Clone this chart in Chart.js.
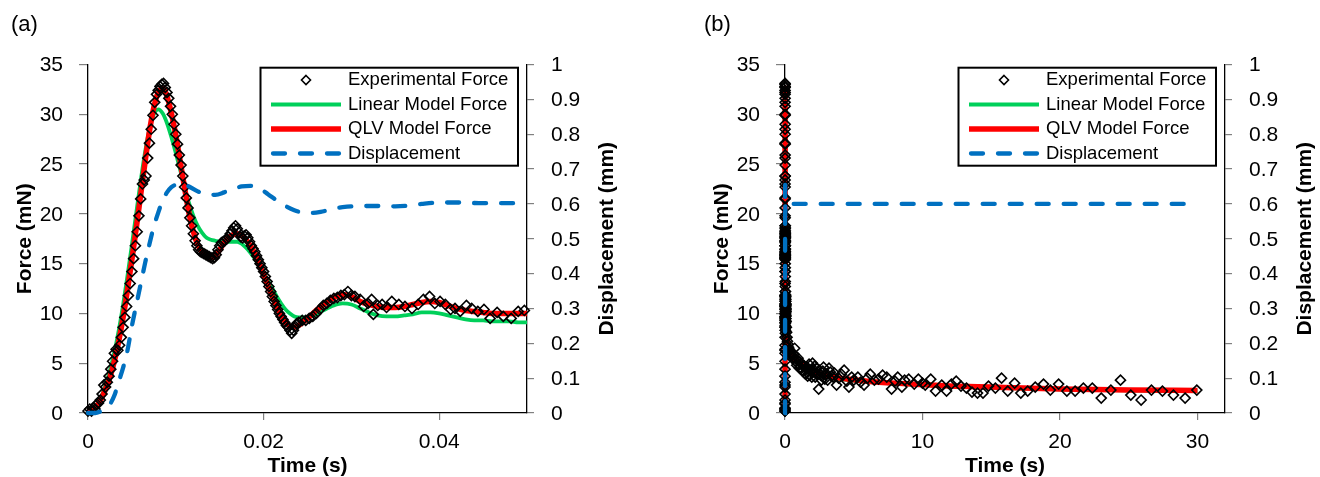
<!DOCTYPE html>
<html>
<head>
<meta charset="utf-8">
<script src="https://cdn.jsdelivr.net/npm/chart.js@4.4.1/dist/chart.umd.min.js"></script>
<style>
  html, body { margin: 0; padding: 0; background: #fff; }
  #wrap { position: relative; width: 1320px; height: 477px; }
  canvas { position: absolute; top: 0; }
  #chartA { left: 0; }
  #chartB { left: 660px; }
</style>
</head>
<body>
<div id="wrap">
  <canvas id="chartA" width="660" height="477"></canvas>
  <canvas id="chartB" width="660" height="477"></canvas>
</div>
<script>
// ---------- measured data ----------
// Experimental force during the ramp (time in ms, force in mN)
const expTimeMsA = [
  0.0, 0.2, 0.4, 0.6, 0.8, 1.0, 1.2, 1.4, 1.6, 1.8,
  2.0, 2.2, 2.4, 2.6, 2.8, 3.0, 3.2, 3.4, 3.6, 3.8,
  4.0, 4.2, 4.4, 4.6, 4.8, 5.0, 5.2, 5.4, 5.6, 5.8,
  6.0, 6.2, 6.4, 6.6, 6.8, 7.0, 7.2, 7.4, 7.6, 7.8,
  8.0, 8.2, 8.4, 8.6, 8.8, 9.0, 9.2, 9.4, 9.6, 9.8,
  10.0, 10.2, 10.4, 10.6, 10.8, 11.0, 11.2, 11.4, 11.6, 11.8,
  12.0, 12.2, 12.4, 12.6, 12.8, 13.0, 13.2, 13.4, 13.6, 13.8,
  14.0, 14.2, 14.4, 14.6, 14.8, 15.0, 15.2, 15.4, 15.6, 15.8,
  16.0, 16.2, 16.4, 16.6, 16.8, 17.0, 17.2, 17.4, 17.6, 17.8,
  18.0, 18.2, 18.4, 18.6, 18.8, 19.0, 19.2, 19.4, 19.6, 19.8,
  20.0, 20.2, 20.4, 20.6, 20.8, 21.0, 21.2, 21.4, 21.6, 21.8,
  22.0, 22.2, 22.4, 22.6, 22.8, 23.0, 23.2, 23.4, 23.6, 23.8,
  24.0, 24.4, 24.8, 25.2, 25.6, 26.0, 26.4, 26.8, 27.2, 27.6,
  28.0, 28.4, 28.8, 29.2, 29.6, 30.0, 30.4, 31.0, 31.4, 31.9,
  32.3, 32.5, 33.0, 33.5, 34.0, 34.6, 35.4, 36.1, 36.9, 37.6,
  38.2, 38.9, 39.5, 40.1, 40.7, 41.3, 41.8, 42.4, 43.1, 43.7,
  44.4, 45.1, 45.8, 46.6, 47.3, 48.2, 49.0, 49.7
];
const expForceA = [
  0.2, 0.4, 0.2, 0.5, 0.4, 0.9, 1.0, 1.3, 1.9, 2.8,
  2.6, 3.1, 3.7, 4.4, 5.2, 6.0, 6.4, 6.3, 6.8, 7.6,
  8.6, 9.6, 10.7, 11.8, 13.0, 14.2, 15.5, 16.8, 18.2, 19.8,
  21.5, 23.0, 23.4, 23.8, 25.6, 27.1, 28.5, 29.9, 31.2, 32.0,
  32.4, 32.8, 33.0, 33.1, 32.7, 32.2, 31.6, 30.8, 30.0, 29.0,
  28.0, 27.0, 25.9, 24.9, 23.8, 22.7, 21.6, 20.6, 19.6, 18.8,
  18.0, 17.3, 16.8, 16.4, 16.2, 16.1, 16.0, 15.9, 15.8, 15.7,
  15.6, 15.5, 15.6, 15.9, 16.4, 16.8, 17.1, 17.2, 17.3, 17.5,
  17.7, 18.0, 18.3, 18.6, 18.8, 18.5, 18.1, 17.7, 17.6, 17.8,
  17.9, 17.6, 17.2, 16.8, 16.5, 16.2, 15.8, 15.4, 15.0, 14.6,
  14.2, 13.7, 13.2, 12.7, 12.2, 11.7, 11.2, 10.8, 10.4, 10.0,
  9.7, 9.4, 9.1, 8.8, 8.6, 8.3, 8.0, 8.3, 8.7, 9.0,
  9.1, 9.3, 9.3, 9.5, 9.7, 10.0, 10.4, 10.8, 11.0, 11.3,
  11.5, 11.6, 11.8, 11.9, 12.2, 11.8, 11.7, 11.4, 10.7, 11.0,
  11.4, 9.9, 10.8, 10.9, 10.6, 11.2, 10.9, 10.7, 10.5, 10.9,
  11.4, 11.7, 11.0, 11.2, 10.9, 10.4, 10.5, 10.2, 10.8, 10.5,
  10.2, 10.4, 9.5, 10.1, 9.7, 9.5, 10.2, 10.3
];

// Model curves over the ramp (time in ms, force in mN)
const modelTimeMsA = [
  0, 0.5, 1.0, 1.5, 2.0, 2.5, 3.0, 3.5, 4.0, 4.5,
  5.0, 5.5, 6.0, 6.5, 7.0, 7.5, 8.0, 8.5, 9.0, 9.5,
  10.0, 10.5, 11.0, 11.5, 12.0, 12.5, 13.0, 13.5, 14.0, 14.5,
  15.0, 15.5, 16.0, 16.5, 17.0, 17.5, 18.0, 18.5, 19.0, 19.5,
  20.0, 20.5, 21.0, 21.5, 22.0, 22.5, 23.0, 23.5, 24.0, 25,
  26, 27, 28, 29, 30, 31, 32, 33, 34, 35,
  36, 37, 38, 39, 40, 41, 42, 43, 44, 45,
  46, 47, 48, 49, 50
];
const linearForceA = [
  0.1, 0.3, 0.8, 1.6, 2.8, 4.3, 6.1, 8.3, 10.9, 13.8,
  16.9, 20.1, 23.3, 26.2, 28.5, 30.0, 30.5, 30.1, 29.1, 27.7,
  26.1, 24.4, 22.7, 21.1, 19.8, 18.8, 18.1, 17.6, 17.4, 17.3,
  17.2, 17.2, 17.2, 17.2, 17.2, 17.0, 16.6, 16.1, 15.5, 14.8,
  14.1, 13.3, 12.5, 11.7, 11.0, 10.4, 10.0, 9.7, 9.6, 9.6,
  9.9, 10.4, 10.8, 11.0, 10.9, 10.5, 10.1, 9.8, 9.7, 9.7,
  9.8, 9.9, 10.1, 10.1, 10.0, 9.8, 9.6, 9.4, 9.3, 9.3,
  9.2, 9.2, 9.2, 9.1, 9.1
];
const qlvForceA = [
  0.1, 0.3, 0.7, 1.4, 2.4, 3.6, 5.2, 7.2, 9.6, 12.4,
  15.4, 18.6, 21.9, 25.2, 28.3, 30.7, 32.2, 32.6, 31.8, 30.1,
  27.9, 25.3, 22.6, 20.1, 18.2, 16.9, 16.1, 15.7, 15.6, 15.8,
  16.4, 17.1, 17.6, 17.9, 18.0, 17.8, 17.4, 16.8, 16.0, 15.0,
  13.9, 12.8, 11.7, 10.7, 9.8, 9.1, 8.7, 8.6, 8.8, 9.5,
  10.3, 11.0, 11.6, 11.9, 11.7, 11.2, 10.9, 10.7, 10.6, 10.6,
  10.7, 10.9, 11.1, 11.2, 11.1, 10.8, 10.5, 10.3, 10.2, 10.1,
  10.0, 10.0, 10.0, 10.0, 10.0
];

// Applied displacement over the ramp (time in ms, displacement in mm)
const dispTimeMsA = [
  0, 0.8, 1.5, 2.0, 2.5, 3.0, 3.5, 4.0, 4.5, 5.0,
  5.5, 6.0, 6.5, 7.0, 7.5, 8.0, 8.5, 9.0, 9.5, 10.0,
  10.7, 11.5, 12.5, 13.5, 14.5, 15.5, 16.5, 17.5, 18.5, 19.5,
  20.5, 21.5, 22.5, 23.5, 24.5, 25.5, 26.5, 27.5, 28.5, 29.5,
  31, 33, 35, 36.5, 38, 40, 42, 45, 50
];
const dispA = [
  0, 0, 0.005, 0.012, 0.025, 0.05, 0.09, 0.13, 0.18, 0.25,
  0.31, 0.37, 0.43, 0.485, 0.535, 0.575, 0.61, 0.633, 0.648, 0.655,
  0.658, 0.65, 0.636, 0.627, 0.626, 0.633, 0.643, 0.65, 0.652, 0.645,
  0.628, 0.61, 0.594, 0.582, 0.575, 0.574, 0.577, 0.583, 0.589, 0.592,
  0.594, 0.594, 0.593, 0.595, 0.600, 0.604, 0.604, 0.602, 0.602
];

// Relaxation tail after the ramp (time in s)
const expTimeTailB = [
  0.06, 0.08, 0.1, 0.12, 0.15, 0.18, 0.22, 0.26, 0.3, 0.35,
  0.4, 0.45, 0.5, 0.55, 0.6, 0.65, 0.7, 0.75, 0.8, 0.85,
  0.9, 0.95, 1.0, 1.05, 1.1, 1.15, 1.2, 1.25, 1.3, 1.35,
  1.4, 1.45, 1.5, 1.55, 1.6, 1.65, 1.7, 1.75, 1.8, 1.85,
  1.9, 1.95, 2.0, 2.05, 2.1, 2.15, 2.2, 2.25, 2.3, 2.35,
  2.45, 2.5, 2.6, 2.65, 2.75, 2.8, 2.9, 2.95, 3.05, 3.1,
  3.2, 3.3, 3.4, 3.5, 3.6, 3.75, 3.9, 4.1, 4.3, 4.5,
  4.65, 4.85, 5.0, 5.3, 5.5, 5.75, 6.0, 6.2, 6.5, 6.8,
  7.1, 7.4, 7.75, 8.0, 8.2, 8.5, 8.7, 9.0, 9.4, 9.7,
  10.0, 10.2, 10.6, 10.95, 11.4, 11.75, 12.1, 12.45, 12.8, 13.2,
  13.6, 14.0, 14.4, 14.8, 15.3, 15.75, 16.2, 16.7, 17.15, 17.65,
  18.2, 18.8, 19.3, 19.9, 20.5, 21.1, 21.7, 22.35, 23.0, 23.7,
  24.4, 25.15, 25.9, 26.65, 27.45, 28.25, 29.1, 29.95
];
const expForceTailB = [
  9.8, 9.2, 8.6, 8.1, 7.6, 7.2, 6.9, 6.6, 6.4, 6.2,
  6.0, 6.1, 5.8, 5.5, 5.6, 5.9, 6.5, 5.2, 5.4, 4.8,
  5.0, 5.5, 5.2, 4.5, 4.6, 5.0, 4.9, 4.3, 4.2, 4.8,
  4.7, 4.0, 3.9, 4.4, 4.6, 3.7, 4.4, 4.9, 3.8, 4.2,
  4.3, 3.6, 5.0, 4.4, 4.1, 4.7, 3.6, 4.0, 4.5, 3.9,
  2.4, 4.3, 3.8, 3.3, 4.2, 4.6, 3.4, 3.8, 3.9, 3.3,
  4.5, 4.1, 3.7, 3.6, 4.0, 2.8, 3.5, 3.9, 4.3, 3.2,
  2.6, 3.6, 3.3, 3.6, 3.1, 2.8, 3.5, 3.9, 3.3, 3.4,
  3.8, 3.6, 2.4, 3.2, 3.6, 2.6, 3.3, 3.4, 2.9, 3.4,
  3.0, 2.8, 3.4, 2.2, 2.8, 2.2, 2.9, 3.2, 2.7, 2.5,
  2.1, 2.0, 2.0, 2.7, 2.5, 3.5, 2.2, 3.0, 2.0, 2.2,
  2.6, 2.9, 2.3, 2.9, 2.2, 2.2, 2.5, 2.5, 1.5, 2.3,
  3.3, 1.8, 1.3, 2.3, 2.2, 1.8, 1.5, 2.3
];
const modelTimeTailB = [
  0.06, 0.08, 0.1, 0.15, 0.2, 0.3, 0.5, 0.75, 1, 1.5,
  2, 3, 4, 5, 6, 8, 10, 12, 15, 18,
  20, 25, 30
];
const linearForceTailB = [
  9.0, 8.5, 7.9, 7.1, 6.6, 6.0, 5.6, 5.2, 4.95, 4.45,
  4.1, 3.65, 3.4, 3.25, 3.12, 2.95, 2.8, 2.68, 2.55, 2.45,
  2.38, 2.28, 2.2
];
const qlvForceTailB = [
  9.6, 8.9, 8.2, 7.3, 6.8, 6.2, 5.8, 5.4, 5.1, 4.6,
  4.2, 3.75, 3.5, 3.35, 3.2, 3.0, 2.85, 2.72, 2.6, 2.48,
  2.42, 2.32, 2.25
];
const dispTimeTailB = [0.1, 1, 5, 10, 20, 30];
const dispTailB = [0.6, 0.6, 0.6, 0.6, 0.6, 0.6];

// ---------- series labels and colours ----------
const seriesLabels = ['Experimental Force', 'Linear Model Force', 'QLV Model Force', 'Displacement'];
const COLORS = { exp: '#000000', linear: '#00D05A', qlv: '#FF0000', disp: '#0070C0' };
const FONT = '"Liberation Sans", Arial, Helvetica, sans-serif';

const toPts = (xs, ys, k) => xs.map((x, i) => ({ x: x * k, y: ys[i] }));

// Panel (a): first 50 ms
const expA = toPts(expTimeMsA, expForceA, 0.001);
const linA = toPts(modelTimeMsA, linearForceA, 0.001);
const qlvA = toPts(modelTimeMsA, qlvForceA, 0.001);
const dspA = toPts(dispTimeMsA, dispA, 0.001);

// Panel (b): whole test, ramp data followed by relaxation tail
const expB = expA.concat(toPts(expTimeTailB, expForceTailB, 1));
const linB = linA.concat(toPts(modelTimeTailB, linearForceTailB, 1));
const qlvB = qlvA.concat(toPts(modelTimeTailB, qlvForceTailB, 1));
const dspB = dspA.concat(toPts(dispTimeTailB, dispTailB, 1));

function buildDatasets(exp, lin, qlv, dsp) {
  return [
    {
      label: seriesLabels[0], data: exp, yAxisID: 'y', order: 1, showLine: false,
      pointStyle: 'rectRot', pointRadius: 5, pointBorderWidth: 1.6,
      pointBorderColor: COLORS.exp, pointBackgroundColor: 'rgba(0,0,0,0)',
      borderColor: COLORS.exp, clip: false
    },
    {
      label: seriesLabels[1], data: lin, yAxisID: 'y', order: 3, showLine: true,
      borderColor: COLORS.linear, borderWidth: 3.8, pointRadius: 0,
      cubicInterpolationMode: 'monotone', clip: false
    },
    {
      label: seriesLabels[2], data: qlv, yAxisID: 'y', order: 2, showLine: true,
      borderColor: COLORS.qlv, borderWidth: 5.5, pointRadius: 0,
      cubicInterpolationMode: 'monotone', clip: false
    },
    {
      label: seriesLabels[3], data: dsp, yAxisID: 'y2', order: 0, showLine: true,
      borderColor: COLORS.disp, borderWidth: 4.3, borderDash: [12, 15],
      borderCapStyle: 'round', pointRadius: 0,
      cubicInterpolationMode: 'monotone', clip: false
    }
  ];
}

// Panel letter, axis titles and the boxed legend
const panelDecor = {
  id: 'panelDecor',
  afterDraw(chart, _args, o) {
    const ctx = chart.ctx, a = chart.chartArea;
    ctx.save();
    ctx.fillStyle = '#000';
    ctx.font = `22px ${FONT}`;
    ctx.textAlign = 'left';
    ctx.textBaseline = 'alphabetic';
    ctx.fillText(o.letter, o.letterX, 31);

    ctx.font = `bold 21px ${FONT}`;
    ctx.textAlign = 'center';
    ctx.textBaseline = 'middle';
    ctx.fillText(o.xTitle, (a.left + a.right) / 2, a.bottom + 53);
    const cy = (a.top + a.bottom) / 2;
    [[a.left - 63, o.yTitle], [a.right + 80, o.y2Title]].forEach(([x, t]) => {
      ctx.save();
      ctx.translate(x, cy);
      ctx.rotate(-Math.PI / 2);
      ctx.fillText(t, 0, 0);
      ctx.restore();
    });

    // legend box
    const right = a.right - 9, left = right - 257.5, top = a.top + 3.2, h = 98;
    ctx.fillStyle = '#fff';
    ctx.fillRect(left, top, right - left, h);
    ctx.strokeStyle = '#000';
    ctx.lineWidth = 2;
    ctx.strokeRect(left, top, right - left, h);

    ctx.font = `18.5px ${FONT}`;
    ctx.textAlign = 'left';
    ctx.textBaseline = 'middle';
    chart.data.datasets.forEach((ds, i) => {
      const y = top + 12.3 + i * 24.5;
      const x1 = left + 10.5, x2 = left + 80.5, xm = (x1 + x2) / 2;
      ctx.save();
      if (!ds.showLine) {
        const r = 4.5;
        ctx.beginPath();
        ctx.moveTo(xm, y - r); ctx.lineTo(xm + r, y); ctx.lineTo(xm, y + r); ctx.lineTo(xm - r, y);
        ctx.closePath();
        ctx.lineWidth = ds.pointBorderWidth;
        ctx.strokeStyle = ds.pointBorderColor;
        ctx.stroke();
      } else {
        ctx.strokeStyle = ds.borderColor;
        ctx.lineWidth = ds.borderWidth;
        ctx.setLineDash(ds.borderDash || []);
        ctx.lineCap = ds.borderCapStyle || 'butt';
        ctx.beginPath();
        const inset = ds.borderDash ? 2 : 0;
        ctx.moveTo(x1 + inset, y); ctx.lineTo(x2 - inset, y);
        ctx.stroke();
      }
      ctx.restore();
      ctx.fillStyle = '#000';
      ctx.fillText(ds.label, left + 87.5, y);
    });
    ctx.restore();
  }
};

// plain number labels: 0, 0.1 ... 1 and 0, 0.02, 0.04
const plainLabel = (v) => String(Math.round(v * 1000) / 1000);

function makeChart(canvasId, cfg) {
  const tickFont = { family: FONT, size: 21 };
  const tickGrid = { display: true, drawOnChartArea: false, drawTicks: true, tickLength: 7, color: '#808080', lineWidth: 1.2 };
  const border = { display: true, color: '#000', width: 1.3 };
  return new Chart(document.getElementById(canvasId), {
    type: 'scatter',
    data: { datasets: cfg.datasets },
    options: {
      responsive: false,
      animation: false,
      devicePixelRatio: 1,
      events: [],
      layout: { padding: { top: 64.5, left: 0, right: 0, bottom: 0 } },
      plugins: {
        legend: { display: false },
        tooltip: { enabled: false },
        panelDecor: {
          letter: cfg.letter, letterX: cfg.letterX,
          xTitle: 'Time (s)', yTitle: 'Force (mN)', y2Title: 'Displacement (mm)'
        }
      },
      scales: {
        x: {
          type: 'linear', position: 'bottom', min: 0, max: cfg.xMax,
          ticks: { stepSize: cfg.xStep, includeBounds: false, font: tickFont, color: '#000', padding: 10, maxRotation: 0, callback: plainLabel },
          grid: tickGrid, border,
          afterFit: (s) => { s.height = 64; }
        },
        y: {
          type: 'linear', position: 'left', min: 0, max: 35,
          ticks: { stepSize: 5, font: tickFont, color: '#000', padding: 16, labelOffset: 1, callback: plainLabel },
          grid: Object.assign({}, tickGrid, { tickLength: 9 }), border,
          afterFit: (s) => { s.width = cfg.leftWidth; }
        },
        y2: {
          type: 'linear', position: 'right', min: 0, max: 1,
          ticks: { stepSize: 0.1, font: tickFont, color: '#000', padding: 17, labelOffset: 1, callback: plainLabel },
          grid: tickGrid, border,
          afterFit: (s) => { s.width = cfg.rightWidth; }
        }
      }
    },
    plugins: [panelDecor]
  });
}

makeChart('chartA', {
  letter: '(a)', letterX: 11, xMax: 0.05, xStep: 0.02,
  leftWidth: 88, rightWidth: 133,
  datasets: buildDatasets(expA, linA, qlvA, dspA)
});
makeChart('chartB', {
  letter: '(b)', letterX: 44, xMax: 32, xStep: 10,
  leftWidth: 125, rightWidth: 95,
  datasets: buildDatasets(expB, linB, qlvB, dspB)
});
</script>
</body>
</html>
